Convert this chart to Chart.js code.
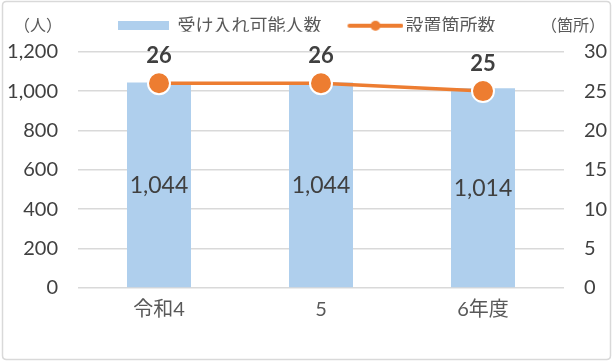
<!DOCTYPE html>
<html>
<head>
<meta charset="utf-8">
<script src="https://cdn.jsdelivr.net/npm/chart.js@4/dist/chart.umd.min.js"></script>
<style>
html,body{margin:0;padding:0;background:#fff;}
#wrap{width:614px;height:364px;position:relative;}
</style>
</head>
<body>
<div id="wrap"><canvas id="c" width="614" height="364"></canvas></div>
<script>
const categories = ['令和4', '5', '6年度'];
const capacity = [1044, 1044, 1014];
const locations = [26, 26, 25];
const leftTicks = [0, 200, 400, 600, 800, 1000, 1200];
const rightTicks = [0, 5, 10, 15, 20, 25, 30];
const seriesNames = ['受け入れ可能人数', '設置箇所数'];
const unitLeft = '（人）';
const unitRight = '（箇所）';

const FONT = "Lato, 'Noto Sans CJK JP', sans-serif";
const BLUE = '#AFCFED';
const ORANGE = '#ED7D31';
const TXT = '#595959';
const DARK = '#404040';

function swatchBar(){
  const c = document.createElement('canvas'); c.width = 51; c.height = 9;
  const g = c.getContext('2d'); g.fillStyle = BLUE; g.fillRect(0,0,51,9); return c;
}
function swatchLine(){
  const c = document.createElement('canvas'); c.width = 64; c.height = 12;
  const g = c.getContext('2d'); g.strokeStyle = ORANGE; g.lineWidth = 4; g.lineCap='round';
  g.beginPath(); g.moveTo(10,6); g.lineTo(62,6); g.stroke();
  g.fillStyle = ORANGE; g.beginPath(); g.arc(36,6,5,0,Math.PI*2); g.fill();
  return c;
}

const fmt = v => v.toLocaleString('en-US');

const deco = {
  id: 'deco',
  beforeDraw(chart){
    const ctx = chart.ctx;
    ctx.save();
    ctx.strokeStyle = '#D9D9D9'; ctx.lineWidth = 1.5;
    const r = 4, x = 2.5, y = 1.5, w = 608, h = 358;
    ctx.beginPath();
    ctx.moveTo(x+r,y); ctx.lineTo(x+w-r,y); ctx.quadraticCurveTo(x+w,y,x+w,y+r);
    ctx.lineTo(x+w,y+h-r); ctx.quadraticCurveTo(x+w,y+h,x+w-r,y+h);
    ctx.lineTo(x+r,y+h); ctx.quadraticCurveTo(x,y+h,x,y+h-r);
    ctx.lineTo(x,y+r); ctx.quadraticCurveTo(x,y,x+r,y); ctx.stroke();
    ctx.restore();
  },
  afterLayout(chart){
    const lg = chart.legend;
    if (lg){ lg.top -= 20; lg.bottom -= 20; }
  },
  afterDatasetsDraw(chart){
    const ctx = chart.ctx;
    ctx.save();
    const bm = chart.getDatasetMeta(0);
    ctx.font = "23px " + FONT; ctx.fillStyle = DARK; ctx.textAlign = 'center'; ctx.textBaseline = 'middle';
    bm.data.forEach((el,i) => {
      const p = el.getProps(['x','y','base'], true);
      ctx.fillText(fmt(capacity[i]), p.x, (p.y + p.base)/2 + 1);
    });
    const lm = chart.getDatasetMeta(1);
    ctx.font = "bold 22px " + FONT; ctx.textBaseline = 'alphabetic';
    lm.data.forEach((el,i) => {
      const p = el.getProps(['x','y'], true);
      ctx.fillText(String(locations[i]), p.x, p.y - 20);
    });
    ctx.font = "16px " + FONT; ctx.fillStyle = TXT; ctx.textBaseline = 'middle';
    ctx.textAlign = 'left';
    ctx.fillText(unitLeft, 14, 26);
    ctx.textAlign = 'right';
    ctx.fillText(unitRight, 605, 26);
    ctx.restore();
  }
};

new Chart(document.getElementById('c'), {
  data: {
    labels: categories,
    datasets: [
      {
        type: 'bar', label: seriesNames[0], data: capacity, yAxisID: 'y',
        backgroundColor: BLUE, borderWidth: 0, barPercentage: 0.79, categoryPercentage: 0.5, order: 2
      },
      {
        type: 'line', label: seriesNames[1], data: locations, yAxisID: 'y1',
        borderColor: ORANGE, borderWidth: 3.5, pointRadius: 11, pointHoverRadius: 11,
        pointBackgroundColor: ORANGE, pointBorderColor: '#fff', pointBorderWidth: 2,
        tension: 0, order: 1
      }
    ]
  },
  options: {
    responsive: false, animation: false, devicePixelRatio: 1,
    layout: { padding: { top: 11.7, left: 0, right: 0, bottom: 36 } },
    plugins: {
      tooltip: { enabled: false },
      legend: {
        position: 'top', align: 'center', maxHeight: 40,
        labels: {
          font: { family: FONT, size: 18 }, color: TXT, padding: 25,
          usePointStyle: true, pointStyleWidth: 50, boxHeight: 10,
          generateLabels(chart){
            return [
              { text: seriesNames[0], pointStyle: swatchBar(), fillStyle: BLUE, strokeStyle: BLUE, lineWidth: 0, datasetIndex: 0, fontColor: TXT },
              { text: seriesNames[1], pointStyle: swatchLine(), fillStyle: ORANGE, strokeStyle: ORANGE, lineWidth: 0, datasetIndex: 1, fontColor: TXT }
            ];
          }
        }
      }
    },
    scales: {
      x: {
        grid: { display: false, drawTicks: false }, border: { display: false },
        afterFit(s){ s.height = 40; },
        ticks: { font: { family: FONT, size: 20 }, color: TXT, padding: 10 }
      },
      y: {
        position: 'left', min: 0, max: 1200,
        afterBuildTicks(s){ s.ticks = leftTicks.map(v => ({ value: v })); },
        afterFit(s){ s.width = 78; },
        grid: { color: '#D9D9D9', lineWidth: 1.5, drawTicks: false },
        border: { display: false },
        ticks: { font: { family: FONT, size: 20 }, color: DARK, padding: 20, callback: v => fmt(v) }
      },
      y1: {
        position: 'right', min: 0, max: 30,
        afterBuildTicks(s){ s.ticks = rightTicks.map(v => ({ value: v })); },
        afterFit(s){ s.width = 50; },
        grid: { display: false, drawTicks: false }, border: { display: false },
        ticks: { font: { family: FONT, size: 20 }, color: DARK, padding: 20 }
      }
    }
  },
  plugins: [deco]
});
</script>
</body>
</html>
